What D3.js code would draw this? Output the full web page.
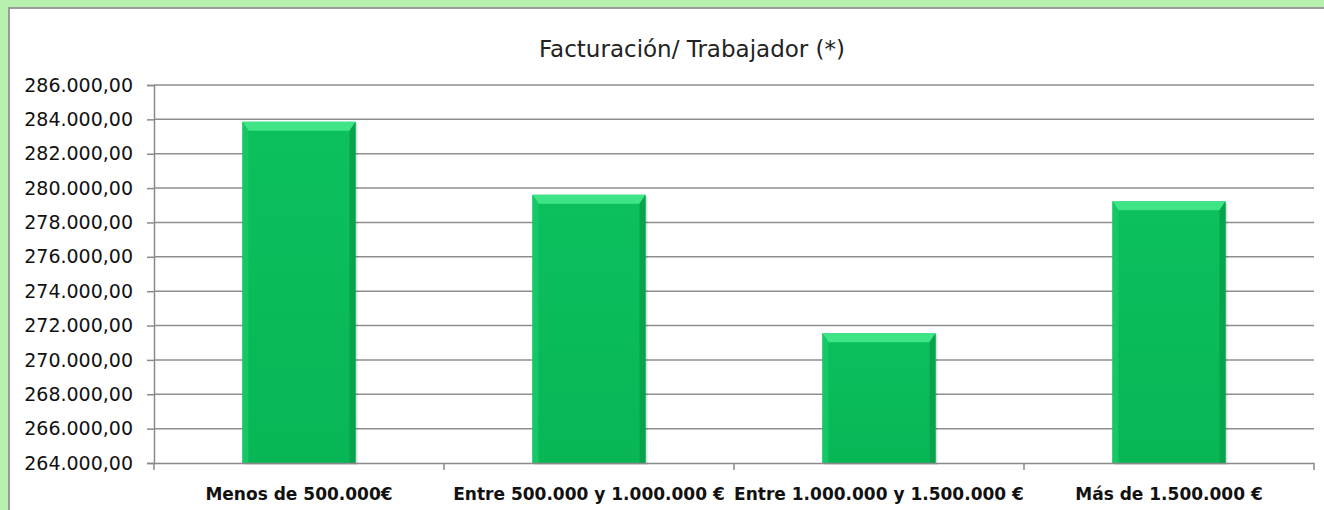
<!DOCTYPE html>
<html>
<head>
<meta charset="utf-8">
<script src="https://cdn.jsdelivr.net/npm/d3@7"></script>
<style>
  html, body { margin: 0; overflow: hidden; background: #b8f0b0; }
  svg { display: block; }
</style>
</head>
<body>
<div class="chart"></div>
<script>
var categories = ['Menos de 500.000€', 'Entre 500.000 y 1.000.000 €', 'Entre 1.000.000 y 1.500.000 €', 'Más de 1.500.000 €']
var values = [283860, 279610, 271550, 279230]
var yTicks = [264000, 266000, 268000, 270000, 272000, 274000, 276000, 278000, 280000, 282000, 284000, 286000]
var title = 'Facturación/ Trabajador (*)'

var W = 1324, H = 510
var margin = {top: 85, right: 10, bottom: 47, left: 154}
let width = W - margin.left - margin.right
let height = H - margin.top - margin.bottom

var svg = d3.select(".chart")
  .append("svg")
  .attr("width", W)
  .attr("height", H)

// white chart area with grey frame
svg.append("rect")
  .attr("x", 9).attr("y", 8)
  .attr("width", W + 10).attr("height", H + 10)
  .attr("fill", "#fff")
  .attr("stroke", "#9a9a9a")
  .attr("stroke-width", 2)

svg.append("text")
  .attr("x", 692).attr("y", 57)
  .attr("text-anchor", "middle")
  .attr("font-family", "'DejaVu Sans', sans-serif")
  .attr("font-size", 23)
  .attr("fill", "#222")
  .text(title)

var defs = svg.append("defs")
var grad = defs.append("linearGradient").attr("id", "face")
  .attr("x1", 0).attr("x2", 0).attr("y1", 0).attr("y2", 1)
grad.append("stop").attr("offset", "0%").attr("stop-color", "#0cc05e")
grad.append("stop").attr("offset", "100%").attr("stop-color", "#08b656")

var g = svg.append("g")
  .attr("transform", "translate(" + margin.left + "," + margin.top + ")")

var x = d3.scaleBand()
  .domain(categories)
  .range([0, width])
  .paddingInner(0.61)
  .paddingOuter(0.305)

var y = d3.scaleLinear()
  .domain([264000, 286000])
  .range([height, 0])

var fmt = function(d) {
  return d3.format(",.2f")(d).replace(/,/g, "#").replace(".", ",").replace(/#/g, ".")
}

// gridlines
g.append("g")
  .selectAll("line")
  .data(yTicks.slice(1))
  .enter().append("line")
  .attr("x1", 0).attr("x2", width)
  .attr("y1", function(d) { return y(d) }).attr("y2", function(d) { return y(d) })
  .attr("stroke", "#8e8e8e")
  .attr("stroke-width", 1.5)

// y axis
var yAxis = g.append("g")
  .call(d3.axisLeft(y).tickValues(yTicks).tickFormat(fmt).tickSize(7).tickPadding(14))
yAxis.select(".domain").attr("stroke", "#8a8a8a").attr("stroke-width", 1.5)
yAxis.selectAll(".tick line").attr("stroke", "#8a8a8a").attr("stroke-width", 1.5)
yAxis.selectAll("text")
  .attr("font-family", "'DejaVu Sans', sans-serif")
  .attr("font-size", 19)
  .attr("fill", "#111")

// bars with a bevelled look
var bar = g.selectAll(".bar")
  .data(values)
  .enter().append("g")
  .attr("class", "bar")

var bev = 6
bar.append("rect")
  .attr("x", function(d, i) { return x(categories[i]) + 2 })
  .attr("y", function(d) { return y(d) + 2 })
  .attr("width", x.bandwidth())
  .attr("height", function(d) { return height - y(d) })
  .attr("fill", "#000").attr("opacity", 0.12)

bar.append("rect")
  .attr("x", function(d, i) { return x(categories[i]) })
  .attr("y", function(d) { return y(d) })
  .attr("width", x.bandwidth())
  .attr("height", function(d) { return height - y(d) })
  .attr("fill", "url(#face)")

// top bevel
bar.append("polygon")
  .attr("points", function(d, i) {
    var x0 = x(categories[i]), x1 = x0 + x.bandwidth(), t = y(d)
    return [[x0, t], [x1, t], [x1 - bev, t + bev + 3], [x0 + bev, t + bev + 3]].join(" ")
  })
  .attr("fill", "#3fe487")
// left bevel
bar.append("polygon")
  .attr("points", function(d, i) {
    var x0 = x(categories[i]), t = y(d)
    return [[x0, t], [x0 + bev, t + bev + 3], [x0 + bev, height], [x0, height]].join(" ")
  })
  .attr("fill", "#15c865")
// right bevel
bar.append("polygon")
  .attr("points", function(d, i) {
    var x1 = x(categories[i]) + x.bandwidth(), t = y(d)
    return [[x1, t], [x1 - bev, t + bev + 3], [x1 - bev, height], [x1, height]].join(" ")
  })
  .attr("fill", "#07a44d")

// x axis
var xAxis = g.append("g")
  .attr("transform", "translate(0," + height + ")")
  .call(d3.axisBottom(x).tickSize(0).tickPadding(25))
xAxis.select(".domain").attr("stroke", "#8a8a8a").attr("stroke-width", 1.5)
xAxis.selectAll("text")
  .attr("font-family", "'DejaVu Sans', sans-serif")
  .attr("font-size", 17)
  .attr("font-weight", "bold")
  .attr("fill", "#111")

// boundary tick marks between categories
var step = x.step()
g.append("g")
  .selectAll("line")
  .data(d3.range(categories.length + 1))
  .enter().append("line")
  .attr("x1", function(i) { return i * step }).attr("x2", function(i) { return i * step })
  .attr("y1", height).attr("y2", height + 7)
  .attr("stroke", "#8a8a8a")
  .attr("stroke-width", 1.5)
</script>
</body>
</html>
